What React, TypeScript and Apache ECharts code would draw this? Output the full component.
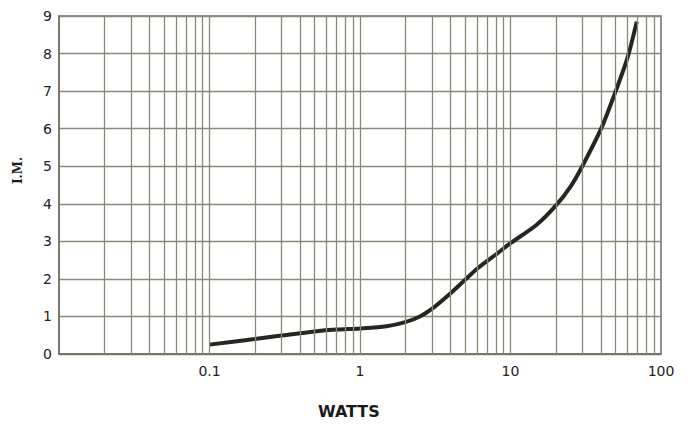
import React, { useEffect, useRef } from "react";
import * as echarts from "echarts";

const watts = [0.1, 0.2, 0.3, 0.5, 0.7, 1, 1.5, 2, 2.5, 3, 4, 5, 6, 7, 8, 10, 15, 20, 25, 30, 40, 50, 60, 69];
const im = [0.25, 0.4, 0.49, 0.6, 0.65, 0.68, 0.74, 0.85, 1.0, 1.2, 1.62, 1.98, 2.27, 2.48, 2.65, 2.95, 3.45, 3.95, 4.45, 5.0, 6.0, 7.0, 7.9, 8.85];
const decades = [0.01, 0.1, 1, 10];
const multipliers = [1, 2, 3, 4, 5, 6, 7, 8, 9];
const xTickLabels = ["0.1", "1", "10", "100"];

const gridColor = "#8a8a7a";

export default function App() {
  const ref = useRef<HTMLDivElement>(null);
  useEffect(() => {
    if (!ref.current) return;
    const chart = echarts.init(ref.current, null, { renderer: "svg" });
    const vLines: any[] = [];
    decades.forEach((d) => {
      multipliers.forEach((m) => {
        const v = Number((d * m).toPrecision(3));
        if (v > 0.01 && v < 100) vLines.push({ xAxis: v });
      });
    });
    chart.setOption({
      animation: false,
      grid: {
        left: 59,
        right: 30,
        top: 16,
        bottom: 70,
        show: true,
        borderColor: "#6f6f62",
        borderWidth: 1.5,
      },
      xAxis: {
        type: "log",
        logBase: 10,
        min: 0.01,
        max: 100,
        axisLine: { show: true, lineStyle: { color: "#6f6f62", width: 1.5 } },
        axisTick: { show: false },
        splitLine: { show: false },
        axisLabel: {
          margin: 10,
          color: "#222",
          fontSize: 14,
          fontFamily: "DejaVu Sans",
          formatter: (v: number) => {
            const s = String(Number(v.toPrecision(3)));
            return xTickLabels.indexOf(s) >= 0 ? s : "";
          },
        },
      },
      yAxis: {
        type: "value",
        min: 0,
        max: 9,
        interval: 1,
        axisLine: { show: true, lineStyle: { color: "#6f6f62", width: 1.5 } },
        axisTick: { show: false },
        splitLine: { show: true, lineStyle: { color: gridColor, width: 1.3 } },
        axisLabel: { margin: 7, color: "#222", fontSize: 14, fontFamily: "DejaVu Sans" },
      },
      graphic: [
        {
          type: "text",
          left: 318,
          top: 403,
          style: { text: "WATTS", font: "bold 16px DejaVu Sans", fill: "#1a1a1a" },
        },
        {
          type: "text",
          x: 12,
          y: 184,
          rotation: Math.PI / 2,
          style: { text: "I.M.", font: "bold 12px DejaVu Serif", fill: "#1a1a1a" },
        },
      ],
      series: [
        {
          type: "line",
          data: watts.map((w, i) => [w, im[i]]),
          smooth: 0.3,
          showSymbol: false,
          lineStyle: { color: "#262620", width: 4 },
          markLine: {
            silent: true,
            symbol: "none",
            label: { show: false },
            lineStyle: { color: gridColor, width: 1.3, type: "solid" },
            data: vLines,
          },
          z: 3,
        },
      ],
    });
    return () => chart.dispose();
  }, []);
  return <div ref={ref} style={{ width: 691, height: 424, position: "absolute", left: 0, top: 0 }} />;
}
